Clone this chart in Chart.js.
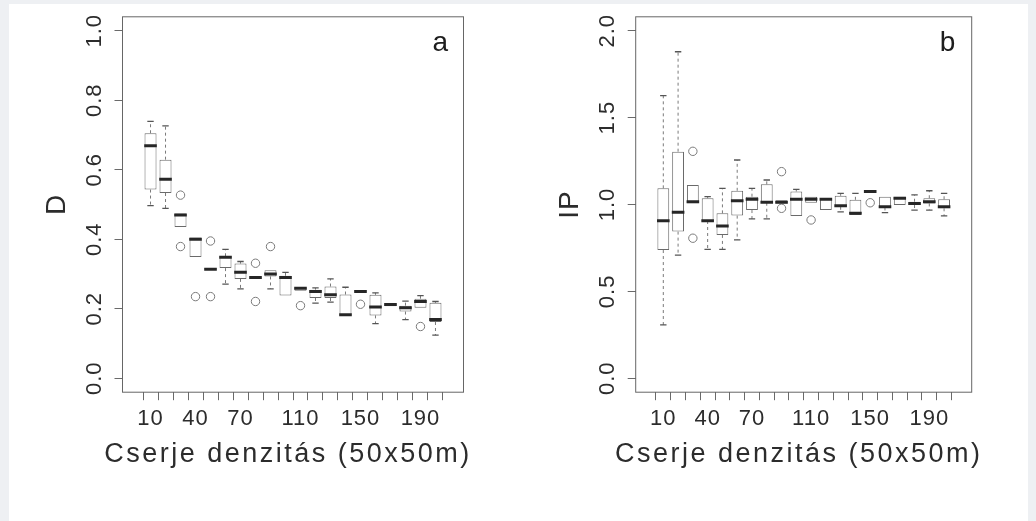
<!DOCTYPE html>
<html><head><meta charset="utf-8">
<script src="https://cdn.jsdelivr.net/npm/chart.js@4.4.1/dist/chart.umd.min.js"></script>
<style>
html,body{margin:0;padding:0;background:#eef0f3;width:1036px;height:521px;overflow:hidden}
#paper{position:absolute;left:9px;top:4px;width:1019px;height:517px;background:#fff}
.panel{position:absolute;top:0;width:518px;height:521px}
#pa{left:0}
#pb{left:513px}
canvas{display:block}
</style></head><body>
<div id="paper"></div>
<div class="panel" id="pa"><canvas id="ca" width="518" height="521"></canvas></div>
<div class="panel" id="pb"><canvas id="cb" width="518" height="521"></canvas></div>
<script>
// ---------- data ----------
const categories = [10,20,30,40,50,60,70,80,90,100,110,120,130,140,150,160,170,180,190,200];
const xLabelsShown = [10,40,70,110,150,190];
const xTitle = 'Cserje denzitás (50x50m)';

// panel a : D
const yTicksA = [0,0.2,0.4,0.6,0.8,1.0];
const aMin = [0.497,0.489,0.435,0.349,0.312,0.271,0.257,0.286,0.257,0.238,0.252,0.216,0.219,0.181,0.248,0.157,0.207,0.169,0.203,0.124];
const aQ1  = [0.543,0.533,0.435,0.349,0.312,0.317,0.286,0.286,0.293,0.238,0.252,0.231,0.231,0.181,0.248,0.181,0.207,0.192,0.203,0.162];
const aMed = [0.669,0.573,0.470,0.400,0.314,0.348,0.305,0.290,0.300,0.290,0.259,0.250,0.240,0.183,0.250,0.205,0.212,0.203,0.221,0.169];
const aQ3  = [0.705,0.629,0.474,0.405,0.317,0.351,0.330,0.293,0.311,0.295,0.261,0.255,0.264,0.241,0.254,0.240,0.216,0.209,0.229,0.217];
const aMax = [0.739,0.726,0.474,0.405,0.317,0.371,0.336,0.293,0.311,0.305,0.261,0.260,0.286,0.262,0.254,0.246,0.216,0.222,0.238,0.221];
const aOutCat = [30,30,40,50,50,80,80,90,110,150,190];
const aOutVal = [0.527,0.379,0.235,0.395,0.235,0.331,0.221,0.379,0.209,0.213,0.149];

// panel b : IP
const yTicksB = [0,0.5,1.0,1.5,2.0];
const bMin = [0.307,0.709,1.007,0.742,0.742,0.796,0.917,0.917,1.006,0.934,1.010,0.968,0.958,0.940,1.071,0.953,0.997,0.968,0.968,0.934];
const bQ1  = [0.738,0.844,1.007,0.905,0.825,0.936,0.968,1.010,1.006,0.934,1.010,0.968,0.987,0.940,1.071,0.983,0.997,0.997,1.006,0.978];
const bMed = [0.907,0.955,1.016,0.907,0.876,1.022,1.030,1.013,1.013,1.030,1.030,1.030,0.993,0.949,1.075,0.987,1.036,1.006,1.016,0.987];
const bQ3  = [1.093,1.304,1.112,1.036,0.949,1.079,1.045,1.116,1.025,1.075,1.045,1.036,1.050,1.027,1.083,1.045,1.045,1.016,1.036,1.030];
const bMax = [1.626,1.879,1.112,1.045,1.093,1.256,1.093,1.141,1.025,1.087,1.045,1.036,1.064,1.064,1.083,1.045,1.045,1.055,1.079,1.064];
const bOutCat = [30,30,90,90,110,150];
const bOutVal = [1.306,0.806,0.978,1.189,0.911,1.010];

// ---------- styling ----------
const FONT = '"Liberation Sans", Arial, Helvetica, sans-serif';
const TXT = '#2c2c2c';

function buildDatasets(mn, q1, md, q3, mx, oc, ov) {
  const boxes = categories.map((c, i) => ({x: c, y: [q1[i], q3[i]]}));
  const meds = categories.map((c, i) => ({x: c, y: md[i]}));
  const whisk = [];
  const staples = [];
  categories.forEach((c, i) => {
    whisk.push({x: c, y: q3[i]}, {x: c, y: mx[i]}, {x: c, y: null},
               {x: c, y: q1[i]}, {x: c, y: mn[i]}, {x: c, y: null});
    if (mx[i] > q3[i]) staples.push({x: c, y: mx[i]});
    if (mn[i] < q1[i]) staples.push({x: c, y: mn[i]});
  });
  const outs = oc.map((c, i) => ({x: c, y: ov[i]}));
  return [
    {type: 'line', data: whisk, borderColor: '#7a7a7a', borderWidth: 1, borderDash: [3, 3],
     pointRadius: 0, spanGaps: false, fill: false, order: 5},
    {type: 'bar', data: boxes, backgroundColor: '#ffffff', borderColor: '#6a6a6a', borderWidth: 1,
     borderSkipped: false, categoryPercentage: 0.8, barPercentage: 1.0, order: 4},
    {type: 'scatter', data: staples, pointStyle: 'line', pointRadius: 3.2, borderColor: '#555',
     borderWidth: 1.3, order: 2},
    {type: 'scatter', data: meds, pointStyle: 'line', pointRadius: 6.3, borderColor: '#262626',
     borderWidth: 3, order: 1},
    {type: 'scatter', data: outs, pointStyle: 'circle', pointRadius: 4.2, borderColor: '#7a7a7a',
     backgroundColor: 'rgba(0,0,0,0)', borderWidth: 1, order: 1}
  ];
}

const framePlugin = {
  id: 'frame',
  beforeDraw(chart) { chart.ctx.letterSpacing = '1px'; },
  afterDraw(chart, args, opts) {
    const {ctx, chartArea: a} = chart;
    ctx.save();
    ctx.letterSpacing = '0px';
    ctx.strokeStyle = '#666';
    ctx.lineWidth = 1;
    ctx.strokeRect(a.left, a.top, a.right - a.left, a.bottom - a.top);
    // panel letter
    ctx.font = '28px ' + FONT;
    ctx.fillStyle = '#1e1e1e';
    ctx.textAlign = 'right';
    ctx.textBaseline = 'alphabetic';
    ctx.fillText(opts.label, a.right - opts.labelDx, a.top + 34.5);
    // x axis title (wider than the plot, as in the original)
    ctx.letterSpacing = '2.5px';
    ctx.font = '27px ' + FONT;
    ctx.fillStyle = TXT;
    ctx.textAlign = 'center';
    ctx.textBaseline = 'middle';
    ctx.fillText(opts.xTitle, (a.left + a.right) / 2 - 5, a.bottom + 62);
    ctx.restore();
    ctx.letterSpacing = '0px';
  }
};

function makePanel(canvasId, p) {
  const tickGrid = {display: true, drawOnChartArea: false, drawTicks: true, tickLength: 8,
                    color: '#6a6a6a', lineWidth: 1};
  return new Chart(document.getElementById(canvasId), {
    type: 'bar',
    data: {datasets: buildDatasets(p.mn, p.q1, p.md, p.q3, p.mx, p.oc, p.ov)},
    plugins: [framePlugin],
    options: {
      responsive: false,
      animation: false,
      events: [],
      devicePixelRatio: 1,
      layout: {padding: {left: 0, top: 16.8, right: p.padRight, bottom: 0}},
      plugins: {legend: {display: false}, tooltip: {enabled: false},
                frame: {label: p.label, labelDx: p.labelDx, xTitle: xTitle}},
      scales: {
        x: {
          type: 'linear', min: -3, max: 213,
          afterBuildTicks: s => { s.ticks = categories.map(v => ({value: v})); },
          afterFit: s => { s.height = 128.8; s.paddingLeft = 0; s.paddingRight = 0; },
          grid: tickGrid,
          border: {display: false},
          ticks: {autoSkip: false, maxRotation: 0, minRotation: 0, padding: 5.6, z: 1,
                  color: TXT, font: {family: FONT, size: 22},
                  callback: v => xLabelsShown.includes(v) ? String(v) : ''},
          title: {display: false}
        },
        y: {
          type: 'linear', min: p.yMin, max: p.yMax,
          afterBuildTicks: s => { s.ticks = p.yTicks.map(v => ({value: v})); },
          afterFit: s => { s.width = p.plotLeft; s.paddingTop = 0; s.paddingBottom = 0; },
          grid: tickGrid,
          border: {display: false},
          ticks: {autoSkip: false, minRotation: 90, maxRotation: 90, crossAlign: 'center',
                  padding: 4.5, z: 1, color: TXT, font: {family: FONT, size: 22},
                  callback: v => v.toFixed(1)},
          title: {display: true, text: p.yTitle, color: TXT, font: {family: FONT, size: 28},
                  padding: {top: 40, bottom: 0}}
        }
      }
    }
  });
}

makePanel('ca', {mn: aMin, q1: aQ1, md: aMed, q3: aQ3, mx: aMax, oc: aOutCat, ov: aOutVal,
  yTicks: yTicksA, yMin: -0.04, yMax: 1.04, yTitle: 'D', label: 'a', labelDx: 15.5,
  plotLeft: 122.5, padRight: 54.5});
makePanel('cb', {mn: bMin, q1: bQ1, md: bMed, q3: bQ3, mx: bMax, oc: bOutCat, ov: bOutVal,
  yTicks: yTicksB, yMin: -0.08, yMax: 2.08, yTitle: 'IP', label: 'b', labelDx: 16.5,
  plotLeft: 122.7, padRight: 59.3});
</script>
</body></html>
